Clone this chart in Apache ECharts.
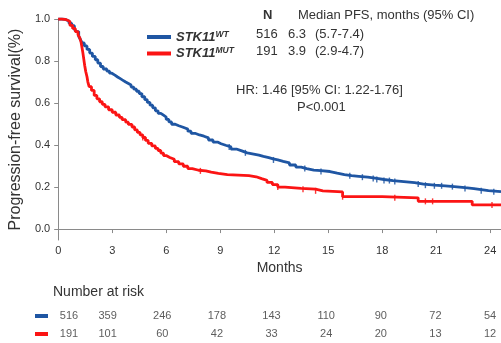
<!DOCTYPE html>
<html>
<head>
<meta charset="utf-8">
<script src="https://cdn.jsdelivr.net/npm/echarts@6/dist/echarts.min.js"></script>
<style>
  html, body { margin: 0; padding: 0; background: #fff; }
  #chart { width: 501px; height: 343px; }
</style>
</head>
<body>
<div id="chart"></div>
<script>
// Kaplan-Meier progression-free survival, STK11 wild-type vs mutant
const wtTime = [0, 0.2, 0.4, 0.6, 0.75, 0.9, 1.0, 1.14, 1.25, 1.33, 1.45, 1.6, 1.75, 1.9, 2.06, 2.2, 2.35, 2.5, 2.7, 2.85, 2.98, 3.15, 3.3, 3.45, 3.6, 3.75, 3.9, 4.05, 4.2, 4.35, 4.5, 4.65, 4.81, 4.95, 5.1, 5.25, 5.4, 5.55, 5.7, 5.85, 6.0, 6.15, 6.3, 6.5, 6.7, 6.9, 7.05, 7.2, 7.38, 7.6, 7.85, 8.1, 8.35, 8.6, 8.85, 9.05, 9.3, 9.6, 9.9, 10.2, 10.5, 10.86, 11.15, 11.4, 11.7, 11.94, 12.2, 12.5, 12.85, 13.2, 13.5, 13.8, 14.2, 14.6, 15.1, 15.5, 15.9, 16.3, 16.7, 17.2, 17.7, 18.1, 18.6, 19.2, 19.8, 20.3, 20.9, 21.5, 22.0, 22.6, 23.1, 23.5, 23.9, 24.6];
const wtSurv = [1.0, 0.998, 0.99, 0.98, 0.968, 0.952, 0.94, 0.918, 0.9, 0.886, 0.872, 0.855, 0.838, 0.822, 0.806, 0.79, 0.774, 0.762, 0.752, 0.742, 0.733, 0.724, 0.716, 0.708, 0.7, 0.693, 0.686, 0.676, 0.666, 0.656, 0.645, 0.63, 0.616, 0.603, 0.59, 0.577, 0.563, 0.551, 0.542, 0.533, 0.522, 0.51, 0.499, 0.492, 0.486, 0.481, 0.476, 0.466, 0.456, 0.448, 0.442, 0.434, 0.424, 0.414, 0.406, 0.399, 0.391, 0.381, 0.372, 0.363, 0.357, 0.352, 0.346, 0.34, 0.334, 0.329, 0.322, 0.315, 0.305, 0.295, 0.288, 0.281, 0.278, 0.274, 0.266, 0.259, 0.254, 0.251, 0.247, 0.241, 0.236, 0.231, 0.226, 0.221, 0.214, 0.209, 0.206, 0.202, 0.197, 0.193, 0.188, 0.183, 0.178, 0.178];
const wtCensored = [9.5, 10.4, 11.96, 13.7, 14.6, 16.2, 16.9, 17.5, 17.7, 18.1, 18.4, 18.7, 20.0, 20.4, 20.9, 21.3, 21.9, 22.6, 23.5, 24.2];

const mutTime = [0, 0.2, 0.45, 0.65, 0.8, 0.95, 1.1, 1.2, 1.27, 1.32, 1.37, 1.42, 1.47, 1.53, 1.6, 1.65, 1.72, 1.85, 2.0, 2.15, 2.3, 2.45, 2.6, 2.8, 3.0, 3.2, 3.4, 3.55, 3.75, 3.9, 4.1, 4.25, 4.4, 4.55, 4.7, 4.85, 5.0, 5.2, 5.4, 5.55, 5.7, 5.85, 6.0, 6.2, 6.45, 6.7, 6.95, 7.2, 7.45, 7.8, 8.2, 8.5, 8.9, 9.4, 10.0, 10.6, 11.0, 11.3, 11.6, 11.9, 12.2, 12.6, 13.5, 14.3, 14.7, 15.8, 18.0, 20.0, 23.0, 24.6];
const mutSurv = [1.0, 0.997, 0.988, 0.97, 0.955, 0.94, 0.926, 0.91, 0.89, 0.865, 0.84, 0.81, 0.78, 0.75, 0.725, 0.7, 0.678, 0.66, 0.636, 0.62, 0.606, 0.594, 0.582, 0.568, 0.556, 0.543, 0.532, 0.521, 0.509, 0.498, 0.486, 0.472, 0.46, 0.448, 0.436, 0.422, 0.408, 0.396, 0.384, 0.374, 0.362, 0.35, 0.341, 0.332, 0.321, 0.31, 0.299, 0.288, 0.28, 0.277, 0.271, 0.265, 0.259, 0.257, 0.254, 0.249, 0.24, 0.232, 0.222, 0.212, 0.2, 0.194, 0.19, 0.182, 0.177, 0.154, 0.149, 0.132, 0.115, 0.115];
const mutCensored = [4.7, 7.9, 12.2, 13.6, 14.3, 15.8, 18.7, 20.4, 20.8, 24.1];

const xTicks = [0, 3, 6, 9, 12, 15, 18, 21, 24];
const yTicks = [0, 0.2, 0.4, 0.6, 0.8, 1.0];

const riskTimes = [0, 3, 6, 9, 12, 15, 18, 21, 24];
const riskWT = [516, 359, 246, 178, 143, 110, 90, 72, 54];
const riskMUT = [191, 101, 60, 42, 33, 24, 20, 13, 12];

const groupN = [516, 191];
const groupMedian = ['6.3', '3.9'];
const groupCI = ['(5.7-7.4)', '(2.9-4.7)'];

const BLUE = '#1f56a3';
const RED = '#fb1414';
const TXT = '#333';
const AXIS = '#8a8a8a';
const FONT = '"Liberation Sans", Arial, sans-serif';

const pairs = (t, s) => t.map((v, i) => [v, s[i]]);

// survival value of a step curve at time t (last event at or before t)
const survAt = (times, surv, t) => {
  let s = surv[0];
  for (let i = 0; i < times.length && times[i] <= t; i++) s = surv[i];
  return s;
};
const censorMarks = (c, times, surv) => c.map(t => [t, survAt(times, surv, t)]);

const riskData = (counts, row) => riskTimes.map((t, i) => ({
  value: [t, row, counts[i]],
  label: i === 0 ? { offset: [16, 0] } : undefined
}));

const chart = echarts.init(document.getElementById('chart'), null, { renderer: 'canvas' });

const tableText = (text, x, y, extra) => Object.assign({
  type: 'text', x: x, y: y,
  style: Object.assign({ text: text, font: '13px ' + FONT, fill: TXT, verticalAlign: 'middle', align: 'left' }, extra || {})
});

const censorSeries = (color, data) => ({
  type: 'scatter', xAxisIndex: 0, yAxisIndex: 0, silent: true,
  symbol: 'rect', symbolSize: [1.4, 6],
  itemStyle: { color: color, opacity: 0.85 },
  data: data
});

chart.setOption({
  animation: false,
  textStyle: { fontFamily: FONT },
  grid: [
    { left: 53, right: 0, top: 19, bottom: 103 },
    { left: 53, right: 0, top: 307, height: 39 }
  ],
  legend: {
    left: 142, top: 25, orient: 'vertical', itemGap: 3,
    icon: 'rect', itemWidth: 24, itemHeight: 4,
    data: ['WT', 'MUT'],
    formatter: n => '{b|STK11}{s|' + n + '}',
    textStyle: {
      rich: {
        b: { fontSize: 13, fontWeight: 'bold', fontStyle: 'italic', color: TXT, fontFamily: FONT, lineHeight: 14 },
        s: { fontSize: 8.5, fontWeight: 'bold', fontStyle: 'italic', color: TXT, fontFamily: FONT, verticalAlign: 'top', lineHeight: 14 }
      }
    }
  },
  xAxis: [{
    type: 'value', gridIndex: 0, min: 0, max: 24.6,
    name: 'Months', nameLocation: 'middle', nameGap: 19,
    nameTextStyle: { fontSize: 14, color: TXT, verticalAlign: 'top' },
    axisLine: { show: true, lineStyle: { color: AXIS } },
    axisTick: { show: true, length: 4, lineStyle: { color: AXIS }, customValues: xTicks },
    axisLabel: { fontSize: 11, color: TXT, margin: 5, customValues: xTicks },
    splitLine: { show: false }
  }, {
    type: 'value', gridIndex: 1, min: 0, max: 24.6, show: false
  }],
  yAxis: [{
    type: 'value', gridIndex: 0, min: -0.052, max: 1.0,
    name: 'Progression-free survival(%)', nameLocation: 'middle', nameGap: 14,
    nameTextStyle: { fontSize: 16, color: TXT },
    axisLine: { show: true, lineStyle: { color: AXIS } },
    axisTick: { show: true, length: 4, lineStyle: { color: AXIS }, customValues: yTicks },
    axisLabel: { fontSize: 11, color: TXT, margin: 8, customValues: yTicks, formatter: v => v.toFixed(1) },
    splitLine: { show: false }
  }, {
    type: 'category', gridIndex: 1, data: ['WT', 'MUT'], inverse: true,
    axisLine: { show: false }, axisTick: { show: false },
    axisLabel: {
      margin: 5,
      formatter: v => '{' + v + '|}',
      rich: {
        WT: { backgroundColor: BLUE, width: 13, height: 4 },
        MUT: { backgroundColor: RED, width: 13, height: 4 }
      }
    }
  }],
  series: [
    {
      name: 'WT', type: 'line', step: 'end', showSymbol: false, symbol: 'none',
      xAxisIndex: 0, yAxisIndex: 0, color: BLUE,
      lineStyle: { width: 2.8, color: BLUE },
      data: pairs(wtTime, wtSurv)
    },
    {
      name: 'MUT', type: 'line', step: 'end', showSymbol: false, symbol: 'none',
      xAxisIndex: 0, yAxisIndex: 0, color: RED,
      lineStyle: { width: 2.8, color: RED },
      data: pairs(mutTime, mutSurv)
    },
    censorSeries(BLUE, censorMarks(wtCensored, wtTime, wtSurv)),
    censorSeries(RED, censorMarks(mutCensored, mutTime, mutSurv)),
    {
      type: 'scatter', xAxisIndex: 1, yAxisIndex: 1, symbolSize: 0, silent: true,
      label: { show: true, position: 'inside', fontSize: 11, color: TXT, formatter: p => p.value[2] },
      data: riskData(riskWT, 'WT').concat(riskData(riskMUT, 'MUT'))
    }
  ],
  graphic: [
    tableText('N', 263, 15, { font: 'bold 13px ' + FONT }),
    tableText('Median PFS, months (95% CI)', 298, 15),
    tableText(String(groupN[0]), 256, 34),
    tableText(groupMedian[0], 288, 34),
    tableText(groupCI[0], 315, 34),
    tableText(String(groupN[1]), 256, 51),
    tableText(groupMedian[1], 288, 51),
    tableText(groupCI[1], 315, 51),
    tableText('HR: 1.46 [95% CI: 1.22-1.76]', 236, 90),
    tableText('P<0.001', 297, 107),
    tableText('Number at risk', 53, 292, { font: '14px ' + FONT })
  ]
});
</script>
</body>
</html>
